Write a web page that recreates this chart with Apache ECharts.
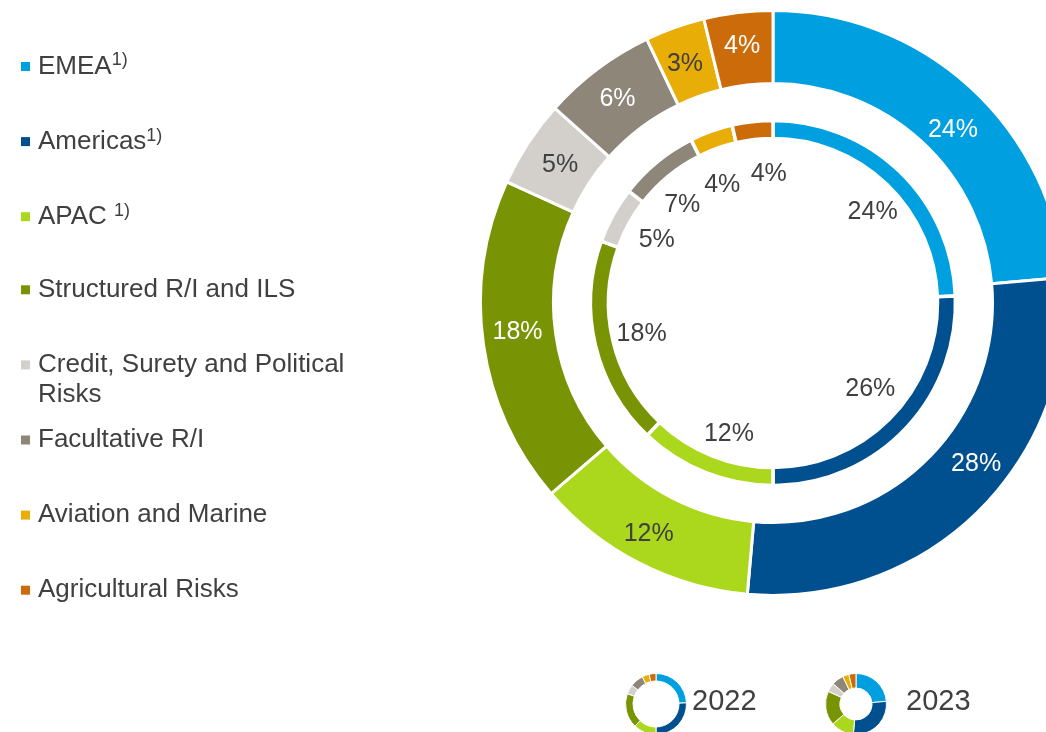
<!DOCTYPE html>
<html>
<head>
<meta charset="utf-8">
<script src="https://cdn.jsdelivr.net/npm/echarts@6/dist/echarts.min.js"></script>
<style>
  html, body { margin: 0; padding: 0; background: #fff; }
  #chart { width: 1046px; height: 732px; }
</style>
</head>
<body>
<div id="chart"></div>
<script>
const categories = ['EMEA', 'Americas', 'APAC', 'Structured R/I and ILS', 'Credit, Surety and Political Risks', 'Facultative R/I', 'Aviation and Marine', 'Agricultural Risks'];
const legendLabels = ['EMEA', 'Americas', 'APAC ', 'Structured R/I and ILS', 'Credit, Surety and Political\nRisks', 'Facultative R/I', 'Aviation and Marine', 'Agricultural Risks'];
const footnotes = ['1)', '1)', '1)', '', '', '', '', ''];
const values2023 = [23.6, 27.8, 12.3, 18.1, 4.8, 6.3, 3.3, 3.8];
const values2022 = [24.4, 25.6, 12.1, 18.4, 5.0, 7.1, 3.8, 3.6];
const years = ['2022', '2023'];

// styles
const palette = ['#009fe0', '#00508f', '#abd81d', '#789303', '#d3d0cb', '#8f867a', '#e8ad06', '#cc6b09'];
const darkLabel = ['APAC', 'Credit, Surety and Political Risks', 'Aviation and Marine'];
const textColor = '#404040';
const font = "'Liberation Sans', Arial, sans-serif";
// small label nudges, as in the original slide
const nudge2023 = { 'EMEA': [5, 18], 'Americas': [20, -22], 'APAC': [-6, 1], 'Structured R/I and ILS': [1, -7], 'Credit, Surety and Political Risks': [4, 4], 'Facultative R/I': [0, 3], 'Aviation and Marine': [-1, 5] };
const nudge2022 = { 'EMEA': [6, 6], 'Americas': [0, -8], 'APAC': [6, 6], 'Facultative R/I': [-5, 6], 'Credit, Surety and Political Risks': [2, 2], 'Aviation and Marine': [-5, 9], 'Agricultural Risks': [11, 5] };

const chart = echarts.init(document.getElementById('chart'));

function legendText(i) {
  const lines = legendLabels[i].split('\n');
  let s = lines.map((l, k) => '{t|' + l + '}' + (k === 0 && footnotes[i] ? '{sup|' + footnotes[i] + '}' : '')).join('\n');
  if (lines.length > 1) s = '{t| }\n' + s;  // keep the marker on the first line
  return s;
}

const legends = categories.map((name, i) => {
  const center = 66.5 + 75.1 * i;
  const nLines = legendLabels[i].split('\n').length;
  return {
    data: [name],
    left: 21,
    top: center - (nLines > 1 ? 45 : 15),
    padding: 0,
    icon: 'rect',
    itemWidth: 9,
    itemHeight: 9,
    itemStyle: { borderWidth: 0 },
    selectedMode: false,
    formatter: () => legendText(i),
    textStyle: {
      rich: {
        t: { fontFamily: font, fontSize: 26, color: textColor, lineHeight: 30, padding: [0, 0, 0, 3] },
        sup: { fontFamily: font, fontSize: 18, color: textColor, lineHeight: 14, verticalAlign: 'top' }
      }
    }
  };
});

function pieData(values, labelStyle, nudge) {
  return values.map((v, i) => {
    const d = { name: categories[i], value: v };
    if (labelStyle) {
      d.label = { color: darkLabel.includes(categories[i]) ? textColor : '#fff' };
    }
    if (nudge && nudge[categories[i]]) {
      d.label = Object.assign(d.label || {}, { offset: nudge[categories[i]] });
    }
    return d;
  });
}

const pct = p => Math.round(p.value) + '%';

chart.setOption({
  animation: false,
  color: palette,
  textStyle: { fontFamily: font },
  title: [
    { text: years[0], left: 692, top: 687, padding: 0, textStyle: { fontFamily: font, fontSize: 29, fontWeight: 'normal', color: textColor } },
    { text: years[1], left: 906, top: 687, padding: 0, textStyle: { fontFamily: font, fontSize: 29, fontWeight: 'normal', color: textColor } }
  ],
  legend: legends,
  series: [
    {
      name: years[1],
      type: 'pie',
      center: [773, 303],
      radius: [219.5, 292.5],
      silent: true,
      avoidLabelOverlap: false,
      labelLayout: { hideOverlap: false },
      itemStyle: { borderColor: '#fff', borderWidth: 3 },
      label: { show: true, position: 'inside', formatter: pct, fontFamily: font, fontSize: 25 },
      labelLine: { show: false },
      data: pieData(values2023, true, nudge2023)
    },
    {
      name: years[0],
      type: 'pie',
      center: [773, 303],
      radius: [164.5, 182.5],
      silent: true,
      itemStyle: { borderColor: '#fff', borderWidth: 3.5 },
      label: { show: false },
      labelLine: { show: false },
      data: pieData(values2022, false)
    },
    {
      // labels of the 2022 ring, placed inside its hole
      name: years[0] + ' labels',
      type: 'pie',
      center: [773, 303],
      radius: [0, 264],
      silent: true,
      avoidLabelOverlap: false,
      labelLayout: { hideOverlap: false },
      itemStyle: { color: 'rgba(0,0,0,0)' },
      label: { show: true, position: 'inside', formatter: pct, fontFamily: font, fontSize: 25, color: textColor },
      labelLine: { show: false },
      data: pieData(values2022, false, nudge2022)
    },
    {
      name: years[0] + ' icon',
      type: 'pie',
      center: [656, 704],
      radius: [23, 30.5],
      silent: true,
      itemStyle: { borderColor: '#fff', borderWidth: 1 },
      label: { show: false },
      labelLine: { show: false },
      data: pieData(values2022, false)
    },
    {
      name: years[1] + ' icon',
      type: 'pie',
      center: [856, 704],
      radius: [16, 30.5],
      silent: true,
      itemStyle: { borderColor: '#fff', borderWidth: 1 },
      label: { show: false },
      labelLine: { show: false },
      data: pieData(values2023, false)
    }
  ]
});
</script>
</body>
</html>
